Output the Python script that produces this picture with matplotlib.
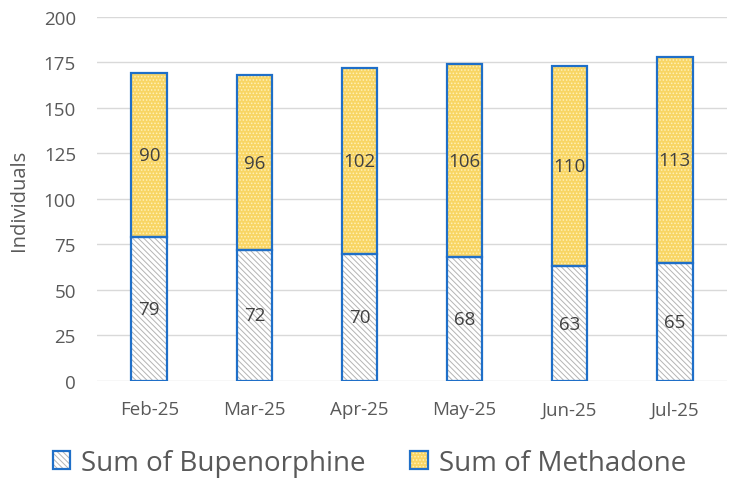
import matplotlib
matplotlib.use("Agg")
import matplotlib.pyplot as plt
from matplotlib.legend_handler import HandlerTuple
import numpy as np

months = ["Feb-25", "Mar-25", "Apr-25", "May-25", "Jun-25", "Jul-25"]
bupe = [79, 72, 70, 68, 63, 65]
metha = [90, 96, 102, 106, 110, 113]

plt.rcParams['font.family'] = ['Open Sans', 'DejaVu Sans']
plt.rcParams['hatch.linewidth'] = 0.7

fig = plt.figure(figsize=(7.39, 4.85), dpi=100)
ax = fig.add_axes([0.131, 0.2124, 0.853, 0.7506])

x = np.arange(len(months))
w = 0.34
blue = '#1F6FC8'

# fills with hatches
b1 = ax.bar(x, bupe, w, color='white', edgecolor='#B4B4B4', hatch='\\\\\\\\\\\\', linewidth=0, zorder=2)
b2 = ax.bar(x, metha, w, bottom=bupe, color='#F8D564', edgecolor='#FFF1B8', hatch='.....', linewidth=0, zorder=2)
# outlines
o1 = ax.bar(x, bupe, w, color='none', edgecolor=blue, linewidth=1.6, zorder=3)
o2 = ax.bar(x, metha, w, bottom=bupe, color='none', edgecolor=blue, linewidth=1.6, zorder=3)

for i in range(len(months)):
    ax.text(x[i], bupe[i] / 2, str(bupe[i]), ha='center', va='center', fontsize=13.5, color='#404040', zorder=4)
    ax.text(x[i], bupe[i] + metha[i] / 2, str(metha[i]), ha='center', va='center', fontsize=13.5, color='#404040', zorder=4)

ax.set_xlim(-0.5, len(months) - 0.5)
ax.set_ylim(0, 200)
ax.set_yticks(np.arange(0, 201, 25))
ax.set_xticks(x)
ax.set_xticklabels(months)
ax.yaxis.grid(True, color='#D9D9D9', linewidth=1)
ax.set_axisbelow(True)
for s in ax.spines.values():
    s.set_visible(False)
ax.tick_params(axis='both', length=0, labelsize=13.5, colors='#595959')
ax.tick_params(axis='y', pad=15)
ax.tick_params(axis='x', pad=14)
ax.set_ylabel('Individuals', fontsize=14.5, color='#595959')
ax.yaxis.set_label_coords(-0.108, 0.5)

leg = ax.legend([(b1[0], o1[0]), (b2[0], o2[0])], ['Sum of Bupenorphine', 'Sum of Methadone'],
                handler_map={tuple: HandlerTuple(ndivide=1, pad=0)},
                loc='center', bbox_to_anchor=(0.4325, -0.225), ncol=2, frameon=False,
                fontsize=20, handlelength=0.62, handleheight=0.62, handletextpad=0.4, columnspacing=1.6,
                labelcolor='#595959', borderpad=0)

fig.savefig('out.png', dpi=100)
